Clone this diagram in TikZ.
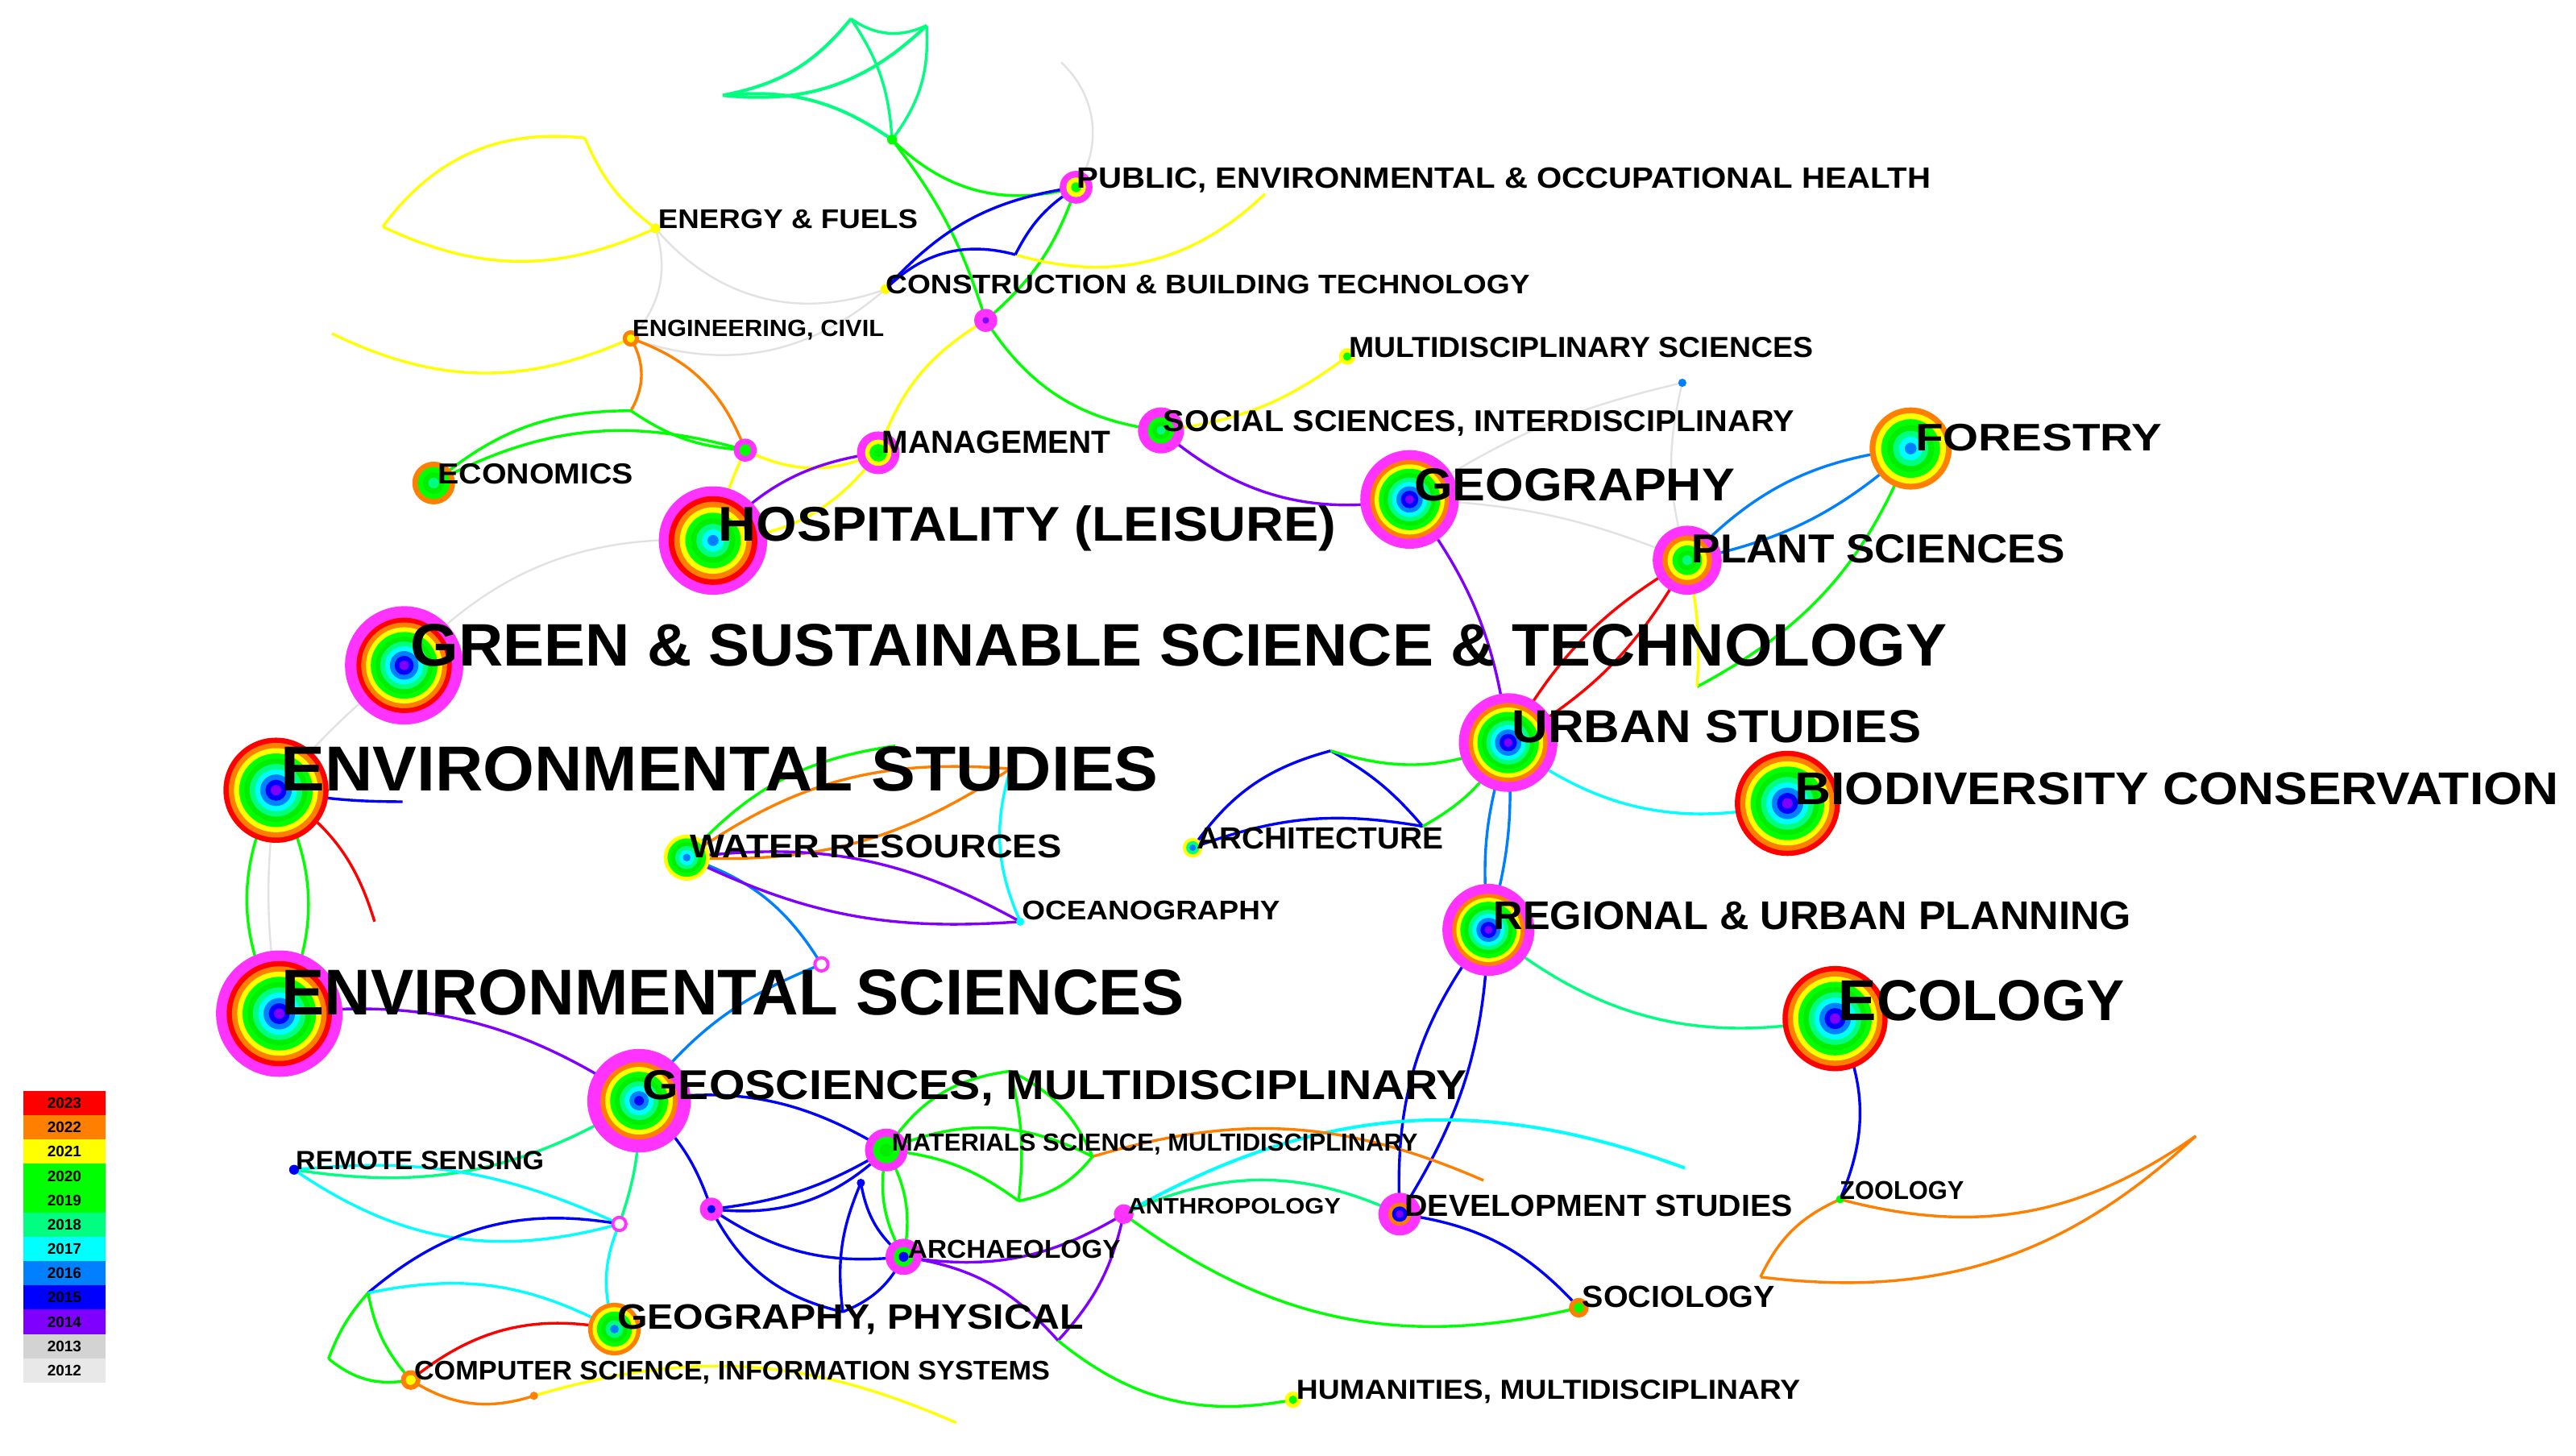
\documentclass[tikz,border=0pt]{standalone}
\usepackage{fontspec}
\setmainfont{Liberation Sans}
\usepackage{graphicx}
\newlength\ux \setlength\ux{2.0389pt}
\definecolor{c23}{HTML}{FF0000}
\definecolor{c22}{HTML}{FF8000}
\definecolor{c21}{HTML}{FFFF00}
\definecolor{c20}{HTML}{00FF00}
\definecolor{c19}{HTML}{00EE00}
\definecolor{c18}{HTML}{00FF80}
\definecolor{c17}{HTML}{00FFFF}
\definecolor{c16}{HTML}{0080FF}
\definecolor{c15}{HTML}{0000FF}
\definecolor{c14}{HTML}{8000FF}
\definecolor{c13}{HTML}{D3D3D3}
\definecolor{c12}{HTML}{E8E8E8}
\definecolor{mag}{HTML}{FF33FF}
\definecolor{egray}{HTML}{E2E2E2}
\newcommand\fitw[3]{\resizebox{#1\ux}{#2\ux}{#3}}
\newcommand\halo[2]{\fill[mag] (#1) circle[radius=#2];}
\newcommand\rings[3]{%
  \def\rlist{#3}%
  \foreach \cc [count=\k] in \rlist {\xdef\rn{\k}}%
  \foreach \cc [count=\k from 0] in \rlist {\fill[\cc] (#1) circle[radius={#2*(1-\k/\rn)}];}%
}
\begin{document}
\begin{tikzpicture}[x=2.0389pt,y=-2.0389pt,
  e/.style={line width=3.4pt},
  eg/.style={line width=2.4pt,draw=egray},
  lab/.style={anchor=base west,inner sep=0pt,font=\bfseries},
  leg/.style={minimum width=102.7pt,minimum height=30.2pt,inner sep=0pt,font=\bfseries\fontsize{19}{19}\selectfont}]
\fill[white] (0,0) rectangle (1568,886);
\useasboundingbox (0,0) rectangle (1568,886);
% ---- node centres
\coordinate (envsci) at (170,617);
\coordinate (envstu) at (168,481);
\coordinate (green) at (246,405);
\coordinate (hosp) at (434,329);
\coordinate (geog) at (858,304);
\coordinate (forest) at (1163,273);
\coordinate (plant) at (1027,341);
\coordinate (urban) at (918,452);
\coordinate (biodiv) at (1088,489);
\coordinate (regional) at (906,566);
\coordinate (ecology) at (1117,620);
\coordinate (geosci) at (389,670);
\coordinate (water) at (418,522);
\coordinate (econ) at (264,294);
\coordinate (mgmt) at (534.6,275.6);
\coordinate (social) at (706.7,262);
\coordinate (public) at (655,114);
\coordinate (cnode) at (600,195);
\coordinate (constr) at (539,176);
\coordinate (energy) at (399,139);
\coordinate (engciv) at (384,206);
\coordinate (multisci) at (820,217);
\coordinate (bdot) at (1024,233);
\coordinate (n454) at (453.6,274);
\coordinate (arch) at (726,516);
\coordinate (ocean) at (621,561);
\coordinate (ring500) at (500,587);
\coordinate (materials) at (539.5,700);
\coordinate (remote) at (179,712);
\coordinate (ring377) at (377,745);
\coordinate (n433) at (433,736);
\coordinate (archaeo) at (550,765);
\coordinate (anthro) at (684,739);
\coordinate (dev) at (852,739);
\coordinate (geophys) at (374,809);
\coordinate (compsci) at (250,840);
\coordinate (dot326) at (325,849.6);
\coordinate (socio) at (961,796);
\coordinate (human) at (787,852);
\coordinate (zoology) at (1120,730);
\coordinate (topgreen) at (543,85);
\coordinate (bv) at (524,720);
% ---- free ends
\coordinate (t1) at (518,11.4);
\coordinate (t2) at (564,15.5);
\coordinate (t3) at (440,58);
\coordinate (y1) at (233,138);
\coordinate (y2) at (356,84);
\coordinate (y3) at (202,203);
\coordinate (gtop0) at (646,38);
\coordinate (y4) at (618,155);
\coordinate (y5) at (770,118);
\coordinate (o2) at (384,250);
\coordinate (f1) at (1033,418);
\coordinate (at) at (810,457);
\coordinate (ar) at (866,503);
\coordinate (zl1) at (1336.5,691.5);
\coordinate (zl2) at (1071.6,777.3);
\coordinate (cy) at (1025.6,711);
\coordinate (om) at (665,704);
\coordinate (oe) at (903,718.5);
\coordinate (gbot) at (620,731);
\coordinate (gtop) at (615,652);
\coordinate (b1) at (513,798.5);
\coordinate (p1) at (644,816);
\coordinate (rs1) at (224,787);
\coordinate (rs2) at (200,827);
\coordinate (yend) at (582,866);
\coordinate (o1) at (615,468);
\coordinate (gl) at (545,454);
\coordinate (er) at (228,561);
\coordinate (eb) at (245,488);
% ---- edges
\draw[e,c18,line width=4pt] (t3) to[bend right=20] (t1);
\draw[e,c18] (t1) to[bend right=30] (t2);
\draw[e,c18] (t1) to[bend left=15] (topgreen);
\draw[e,c18] (t2) to[bend left=20] (topgreen);
\draw[e,c18,line width=4pt] (t3) to[bend right=25] (t2);
\draw[e,c18,line width=4pt] (t3) to[bend left=20] (topgreen);
\draw[e,c20] (topgreen) to[bend right=30] (public);
\draw[e,c20] (topgreen) to[bend left=10] (cnode);
\draw[e,c20] (public) to[bend left=15] (cnode);
\draw[e,c20] (cnode) to[bend right=25] (social);
\draw[eg] (gtop0) to[bend left=40] (public);
\draw[eg] (energy) to[bend right=35] (constr);
\draw[eg] (energy) to[bend left=30] (engciv);
\draw[eg] (engciv) to[bend right=30] (constr);
\draw[e,c21] (energy) to[bend left=15] (y2);
\draw[e,c21] (y2) to[bend right=30] (y1);
\draw[e,c21] (y1) to[bend right=25] (energy);
\draw[e,c21] (y3) to[bend right=25] (engciv);
\draw[e,c21] (y4) to[bend right=30] (y5);
\draw[e,c21] (cnode) to[bend right=20] (mgmt);
\draw[e,c21] (mgmt) to[bend left=25] (hosp);
\draw[e,c21] (n454) to[bend right=25] (mgmt);
\draw[e,c21] (n454) to[bend right=5] (hosp);
\draw[e,c21] (multisci) to[bend left=15] (social);
\draw[e,c15] (constr) to[bend left=20] (public);
\draw[e,c15] (constr) to[bend left=30] (y4);
\draw[e,c15] (y4) to[bend left=15] (public);
\draw[e,c14] (hosp) to[bend left=20] (mgmt);
\draw[e,c14] (social) to[bend right=25] (geog);
\draw[e,c22] (engciv) to[bend left=25] (n454);
\draw[e,c22] (engciv) to[bend left=30] (o2);
\draw[e,c20] (econ) to[bend left=20] (o2);
\draw[e,c20] (o2) to[bend right=15] (n454);
\draw[e,c20] (econ) to[bend left=22] (n454);
\draw[eg] (hosp) to[bend right=25] (green);
\draw[eg] (green) to[bend right=5] (envstu);
\draw[eg] (envstu) to[bend right=8] (envsci);
\draw[e,c20] (envstu) to[bend right=28] (envsci);
\draw[e,c20] (envstu) to[bend left=28] (envsci);
\draw[e,c23] (envstu) to[bend left=20] (er);
\draw[e,c15] (envstu) to[bend right=5] (eb);
\draw[e,c14] (envsci) to[bend left=20] (geosci);
\draw[e,c16] (geosci) to[bend left=15] (ring500);
\draw[e,c16] (water) to[bend left=20] (ring500);
\draw[e,c22] (water) to[bend left=20] (o1);
\draw[e,c22] (water) to[bend right=18] (o1);
\draw[e,c20] (water) to[bend left=20] (gl);
\draw[e,c17] (o1) to[bend right=20] (ocean);
\draw[e,c14] (water) to[bend left=18] (ocean);
\draw[e,c14] (water) to[bend right=15] (ocean);
\draw[e,c15] (arch) to[bend left=20] (at);
\draw[e,c15] (at) to[bend left=10] (ar);
\draw[e,c15] (arch) to[bend left=15] (ar);
\draw[e,c20] (at) to[bend right=20] (urban);
\draw[e,c20] (ar) to[bend right=15] (urban);
\draw[e,c16] (urban) to[bend right=12] (regional);
\draw[e,c16] (urban) to[bend left=10] (regional);
\draw[e,c23] (plant) to[bend right=15] (urban);
\draw[e,c23] (plant) to[bend left=15] (urban);
\draw[e,c14] (geog) to[bend left=15] (urban);
\draw[e,c16] (forest) to[bend right=20] (plant);
\draw[e,c16] (forest) to[bend left=15] (plant);
\draw[e,c20] (forest) to[bend left=20] (f1);
\draw[e,c21] (plant) to[bend left=8] (f1);
\draw[e,c17] (urban) to[bend right=25] (biodiv);
\draw[e,c18] (regional) to[bend right=25] (ecology);
\draw[eg] (bdot) to[bend right=10] (geog);
\draw[eg] (bdot) to[bend right=15] (plant);
\draw[eg] (geog) to[bend left=10] (plant);
\draw[e,c15] (regional) to[bend right=20] (dev);
\draw[e,c15] (regional) to[bend left=15] (dev);
\draw[e,c15] (ecology) to[bend left=25] (zoology);
\draw[e,c22] (zoology) to[bend right=25] (zl1);
\draw[e,c22] (zl2) to[bend left=20] (zoology);
\draw[e,c22] (zl2) to[bend right=25] (zl1);
\draw[e,c15] (dev) to[bend left=20] (socio);
\draw[e,c20] (anthro) to[bend right=25] (socio);
\draw[e,c18] (anthro) to[bend left=25] (dev);
\draw[e,c17,line width=4pt] (anthro) to[bend left=25] (cy);
\draw[e,c22] (om) to[bend left=20] (oe);
\draw[e,c20] (materials) to[bend left=25] (om);
\draw[e,c20] (materials) to[bend left=15] (gbot);
\draw[e,c20] (gbot) to[bend right=20] (om);
\draw[e,c20] (gbot) to[bend right=10] (gtop);
\draw[e,c20] (materials) to[bend left=25] (gtop);
\draw[e,c20] (om) to[bend right=20] (gtop);
\draw[e,c20] (materials) to[bend right=20] (archaeo);
\draw[e,c20] (materials) to[bend left=20] (archaeo);
\draw[e,c15] (geosci) to[bend left=20] (materials);
\draw[e,c15] (geosci) to[bend left=15] (n433);
\draw[e,c15] (n433) to[bend right=12] (materials);
\draw[e,c15] (n433) to[bend right=25] (materials);
\draw[e,c15] (n433) to[bend right=20] (archaeo);
\draw[e,c15] (n433) to[bend right=25] (b1);
\draw[e,c15] (bv) to[bend right=15] (b1);
\draw[e,c15] (b1) to[bend right=20] (archaeo);
\draw[e,c15] (bv) to[bend right=20] (archaeo);
\draw[e,c14] (archaeo) to[bend left=20] (p1);
\draw[e,c14] (archaeo) to[bend right=20] (anthro);
\draw[e,c14] (p1) to[bend right=15] (anthro);
\draw[e,c20] (p1) to[bend right=25] (human);
\draw[e,c18] (geosci) to[bend left=20] (remote);
\draw[e,c17] (remote) to[bend right=25] (ring377);
\draw[e,c17] (remote) to[bend left=15] (ring377);
\draw[e,c18] (geosci) to[bend left=10] (ring377);
\draw[e,c17] (ring377) to[bend right=20] (geophys);
\draw[e,c15] (ring377) to[bend right=25] (rs1);
\draw[e,c17] (rs1) to[bend left=20] (geophys);
\draw[e,c20] (rs1) to[bend right=10] (rs2);
\draw[e,c20] (rs1) to[bend right=15] (compsci);
\draw[e,c20] (rs2) to[bend right=25] (compsci);
\draw[e,c23] (compsci) to[bend left=25] (geophys);
\draw[e,c22] (compsci) to[bend right=25] (dot326);
\draw[e,c21] (dot326) to[bend left=20] (yend);
% ---- node discs
\halo{envsci}{38.5}\rings{envsci}{32}{c23,c22,c21,c20,c19,c18,c17,c16,c15,c14}
\rings{envstu}{32}{c23,c22,c21,c20,c19,c18,c17,c16,c15,c14}
\halo{green}{36}\rings{green}{29}{c23,c22,c21,c20,c19,c18,c17,c16,c15,c14}
\halo{hosp}{33}\rings{hosp}{27}{c23,c22,c21,c20,c19,c18,c17,c16}
\halo{geog}{30}\rings{geog}{24}{c22,c21,c20,c19,c18,c17,c16,c15,c14}
\rings{forest}{25}{c22,c21,c20,c19,c18,c17,c16}
\halo{plant}{21}\rings{plant}{15}{c22,c21,c20,c19,c18}
\halo{urban}{30}\rings{urban}{24}{c22,c21,c20,c19,c18,c17,c16,c15,c14}
\rings{biodiv}{32}{c23,c22,c21,c20,c19,c18,c17,c16,c15,c14}
\halo{regional}{28}\rings{regional}{22}{c22,c21,c20,c19,c18,c17,c16,c15,c14}
\rings{ecology}{32}{c23,c22,c21,c20,c19,c18,c17,c16,c15,c14}
\halo{geosci}{31.5}\rings{geosci}{23.5}{c22,c21,c20,c19,c18,c17,c16,c15}
\rings{water}{14}{c21,c20,c19,c18,c17,c16}
\rings{econ}{13}{c22,c20,c19,c18}
\halo{mgmt}{13}\rings{mgmt}{8}{c21,c20,c19}
\halo{social}{14}\rings{social}{8}{c20,c19,c18}
\halo{public}{10}\rings{public}{6}{c21,c20}
\halo{cnode}{7}\rings{cnode}{2}{c14}
\rings{constr}{3}{c21}
\rings{energy}{3}{c21}
\rings{engciv}{5}{c22,c21}
\rings{multisci}{5}{c21,c20}
\rings{bdot}{2.5}{c16}
\halo{n454}{7}\rings{n454}{3.5}{c20}
\rings{arch}{6}{c21,c18,c16}
\rings{ocean}{2.5}{c17}
\halo{ring500}{5}\rings{ring500}{3}{white}
\halo{materials}{13}\rings{materials}{8}{c20,c19}
\rings{remote}{3}{c15}
\halo{ring377}{5}\rings{ring377}{3}{white}
\halo{n433}{7}\rings{n433}{2.5}{c15}
\halo{archaeo}{11}\rings{archaeo}{6}{c20,c15}
\halo{anthro}{6}
\halo{dev}{13}\rings{dev}{7}{c22,c15,c14}
\rings{geophys}{16}{c22,c21,c20,c19,c18,c16}
\rings{compsci}{6}{c22,c21}
\rings{dot326}{2.5}{c22}
\rings{socio}{6}{c22,c20}
\rings{human}{5}{c21,c20}
\rings{zoology}{2.5}{c20}
\rings{topgreen}{3}{c20}
\rings{bv}{2.5}{c15}
% ---- labels
\node[lab] (lpub) at (655.5,114.5) {\fitw{519.5}{12.5}{PUBLIC, ENVIRONMENTAL \& OCCUPATIONAL HEALTH}};
\node[lab] (lene) at (400.6,139) {\fitw{158}{11.5}{ENERGY \& FUELS}};
\node[lab] (lcon) at (539,179) {\fitw{392}{11.4}{CONSTRUCTION \& BUILDING TECHNOLOGY}};
\node[lab] (leng) at (385,205) {\fitw{153}{10}{ENGINEERING, CIVIL}};
\node[lab] (lmul) at (821,217.4) {\fitw{282.5}{12.3}{MULTIDISCIPLINARY SCIENCES}};
\node[lab] (lsoc) at (708,262.4) {\fitw{384}{12.8}{SOCIAL SCIENCES, INTERDISCIPLINARY}};
\node[lab] (lman) at (536.9,276) {\fitw{139}{13.6}{MANAGEMENT}};
\node[lab] (lfor) at (1165.8,274.6) {\fitw{150}{16.3}{FORESTRY}};
\node[lab] (leco) at (266.4,294.3) {\fitw{119}{12.3}{ECONOMICS}};
\node[lab] (lgeo) at (860.8,305) {\fitw{195}{19.6}{GEOGRAPHY}};
\node[lab] (lhos) at (437.3,329.4) {\fitw{375.7}{21.5}{HOSPITALITY (LEISURE)}};
\node[lab] (lpla) at (1029.7,342.4) {\fitw{227}{17.2}{PLANT SCIENCES}};
\node[lab] (lgre) at (250,405.4) {\fitw{935}{25.5}{GREEN \& SUSTAINABLE SCIENCE \& TECHNOLOGY}};
\node[lab] (lurb) at (920.3,452) {\fitw{249}{19.6}{URBAN STUDIES}};
\node[lab] (lens) at (170.7,481.5) {\fitw{534}{27}{ENVIRONMENTAL STUDIES}};
\node[lab] (lbio) at (1092.3,489.5) {\fitw{465}{19.5}{BIODIVERSITY CONSERVATION}};
\node[lab] (lwat) at (420,522.3) {\fitw{226}{14}{WATER RESOURCES}};
\node[lab] (larc) at (728.3,516.5) {\fitw{150.4}{13}{ARCHITECTURE}};
\node[lab] (loce) at (622,560) {\fitw{157}{11.5}{OCEANOGRAPHY}};
\node[lab] (lreg) at (909,565.5) {\fitw{388}{17}{REGIONAL \& URBAN PLANNING}};
\node[lab] (lenv) at (171.4,617.5) {\fitw{549.6}{27.5}{ENVIRONMENTAL SCIENCES}};
\node[lab] (lecol) at (1119,621) {\fitw{174}{24.5}{ECOLOGY}};
\node[lab] (lgsc) at (391,669) {\fitw{502}{17.7}{GEOSCIENCES, MULTIDISCIPLINARY}};
\node[lab] (lmat) at (542.8,700.5) {\fitw{320}{10.5}{MATERIALS SCIENCE, MULTIDISCIPLINARY}};
\node[lab] (lrem) at (180,712) {\fitw{151}{11.2}{REMOTE SENSING}};
\node[lab] (lzoo) at (1119.7,730) {\fitw{75.7}{11}{ZOOLOGY}};
\node[lab] (lant) at (686.3,739) {\fitw{129.7}{9.5}{ANTHROPOLOGY}};
\node[lab] (ldev) at (855,740.5) {\fitw{236}{13}{DEVELOPMENT STUDIES}};
\node[lab] (lach) at (552.6,766) {\fitw{129.4}{11}{ARCHAEOLOGY}};
\node[lab] (lsocio) at (963,796) {\fitw{117.3}{13}{SOCIOLOGY}};
\node[lab] (lgph) at (375.7,809) {\fitw{284}{15}{GEOGRAPHY, PHYSICAL}};
\node[lab] (lcs) at (252,840) {\fitw{387}{11.4}{COMPUTER SCIENCE, INFORMATION SYSTEMS}};
\node[lab] (lhum) at (789,851.7) {\fitw{306.7}{11.7}{HUMANITIES, MULTIDISCIPLINARY}};
% ---- legend
\foreach \yr/\cl [count=\i from 0] in {2023/c23,2022/c22,2021/c21,2020/c20,2019/c20,2018/c18,2017/c17,2016/c16,2015/c15,2014/c14,2013/c13,2012/c12}
  \node[leg,fill=\cl] (leg\yr) at (39.2,{664+14.8*(\i+0.5)}) {\yr};
\end{tikzpicture}
\end{document}
